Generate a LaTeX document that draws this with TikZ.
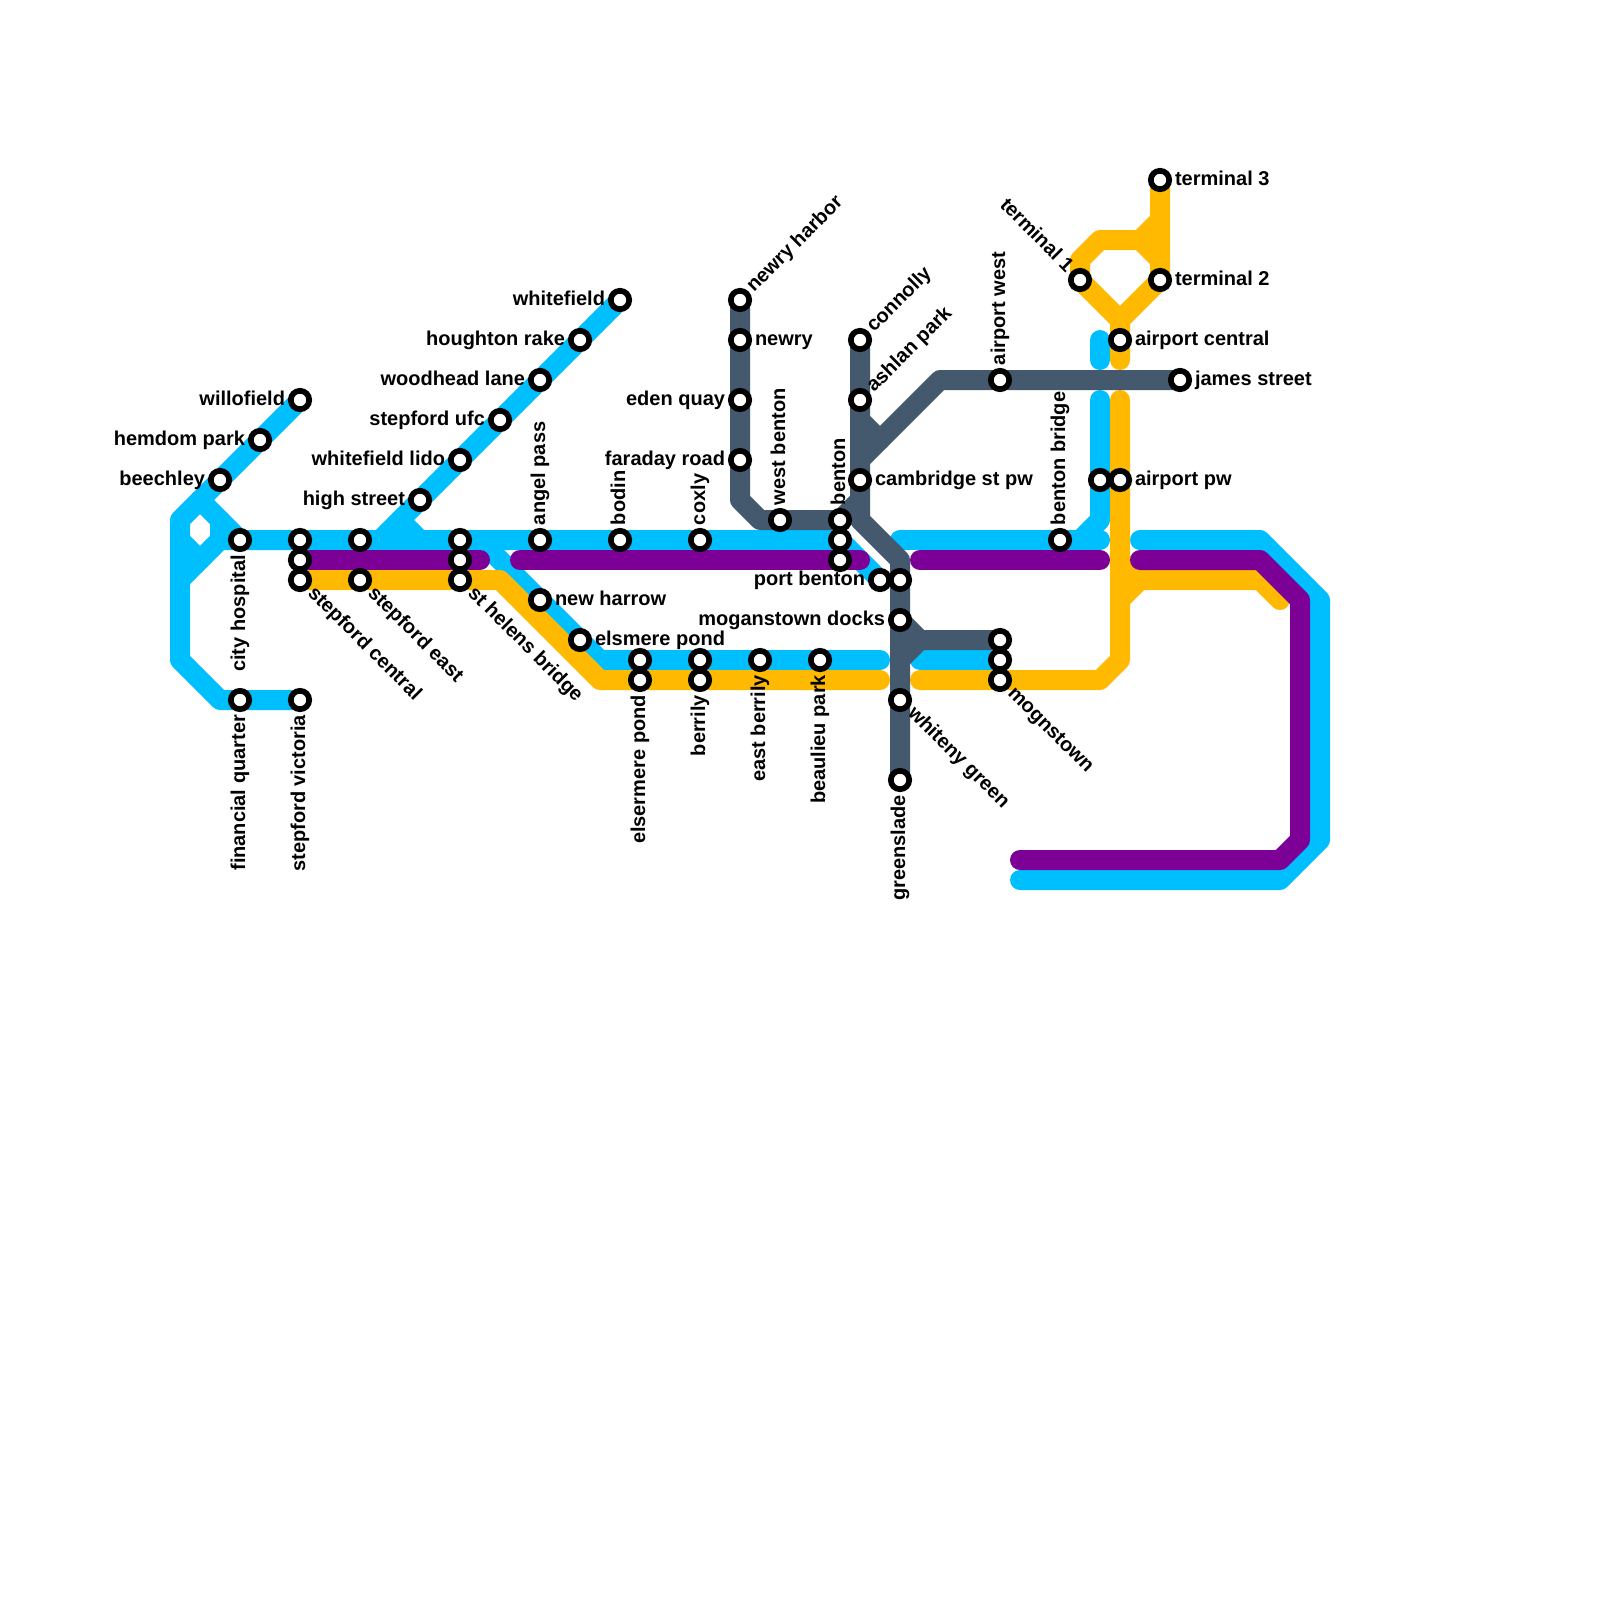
\documentclass[tikz,border=0pt]{standalone}
\usepackage{fontspec}
\setmainfont{Liberation Sans}
\usetikzlibrary{calc,backgrounds}
\definecolor{lblue}{HTML}{00BFFF}
\definecolor{lyellow}{HTML}{FFB900}
\definecolor{lpurple}{HTML}{7D0096}
\definecolor{ldark}{HTML}{44596E}
\tikzset{
  route/.style={line width=10pt,line cap=round,line join=round},
  blueline/.style={route,draw=lblue},
  yellowline/.style={route,draw=lyellow},
  purpleline/.style={route,draw=lpurple},
  darkline/.style={route,draw=ldark},
  stn/.style={circle,draw=black,fill=white,line width=2.85pt,minimum size=9.2pt,inner sep=0pt,outer sep=0pt},
  lab/.style={inner sep=0pt,outer sep=0pt,font=\bfseries\fontsize{10}{11}\selectfont}
}
% #1 station, #2 angle, #3 text
\newcommand{\lblafter}[3]{\node[lab,rotate=#2,anchor=base west] (#1-t) at ($(#1.center)+(#2:7.5pt)+(#2-90:2.5pt)$) {#3};}
\newcommand{\lblbefore}[3]{\node[lab,rotate=#2,anchor=base east] (#1-t) at ($(#1.center)+(#2+180:7.5pt)+(#2-90:2.5pt)$) {#3};}
\newcommand{\st}[3]{\node[stn] (#1) at (#2,#3) {};}
\begin{document}
\begin{tikzpicture}[x=0.5pt,y=-0.5pt]
\useasboundingbox (0,0) rectangle (1600,1600);
% stations
\st{willofield}{300}{400}\st{hemdom}{260}{440}\st{beechley}{220}{480}
\st{cityhosp}{240}{540}\st{sca}{300}{540}\st{scb}{300}{560}\st{sc}{300}{580}
\st{sea}{360}{540}\st{se}{360}{580}
\st{highst}{420}{500}\st{lido}{460}{460}\st{ufc}{500}{420}\st{woodhead}{540}{380}\st{houghton}{580}{340}\st{whitefield}{620}{300}
\st{sha}{460}{540}\st{shb}{460}{560}\st{sh}{460}{580}
\st{angel}{540}{540}\st{bodin}{620}{540}\st{coxly}{700}{540}
\st{newharrow}{540}{600}\st{elsmere}{580}{640}
\st{ela}{640}{660}\st{el}{640}{680}\st{bea}{700}{660}\st{be}{700}{680}
\st{eastb}{760}{660}\st{beaulieu}{820}{660}
\st{fq}{240}{700}\st{victoria}{300}{700}
\st{nharbor}{740}{300}\st{newry}{740}{340}\st{eden}{740}{400}\st{faraday}{740}{460}
\st{wbenton}{780}{520}\st{benton}{840}{520}\st{bentonb}{840}{540}\st{bentonc}{840}{560}
\st{connolly}{860}{340}\st{ashlan}{860}{400}\st{cambridge}{860}{480}
\st{portb}{880}{580}\st{portc}{900}{580}\st{docks}{900}{620}
\st{whiteny}{900}{700}\st{greenslade}{900}{780}
\st{moa}{1000}{640}\st{mob}{1000}{660}\st{mo}{1000}{680}
\st{awest}{1000}{380}\st{james}{1180}{380}\st{bbridge}{1060}{540}
\st{apwb}{1100}{480}\st{apw}{1120}{480}\st{acentral}{1120}{340}
\st{tone}{1080}{280}\st{ttwo}{1160}{280}\st{tthree}{1160}{180}
% routes under the stations
\begin{scope}[on background layer]
\fill[white] (0,0) rectangle (1600,1600);
\draw[blueline] (willofield.center) -- (180,520) -- (180,660) -- (220,700) -- (victoria.center);
\draw[blueline] (200,500) -- (cityhosp.center) -- (sha.center) -- (840,540) -- (portb.center);
\draw[blueline] (220,520) -- (220,540);
\draw[blueline] (180,540) -- (200,560);
\draw[blueline] (180,580) -- (220,540) -- (cityhosp.center);
\draw[blueline] (380,540) -- (whitefield.center);
\draw[blueline] (400,520) -- (420,540);
\draw[blueline] (480,540) -- (600,660) -- (880,660);
\draw[blueline] (920,660) -- (mob.center);
\draw[blueline] (900,540) -- (1100,540);
\draw[blueline] (1100,400) -- (1100,520) -- (1080,540);
\draw[blueline] (1100,340) -- (1100,360);
\draw[blueline] (1140,540) -- (1260,540) -- (1320,600) -- (1320,840) -- (1280,880) -- (1020,880);
\draw[yellowline] (sc.center) -- (500,580) -- (600,680) -- (880,680);
\draw[yellowline] (920,680) -- (1100,680) -- (1120,660) -- (1120,400);
\draw[yellowline] (1120,360) -- (1120,320) -- (ttwo.center) -- (tthree.center);
\draw[yellowline] (1120,320) -- (tone.center) -- (1080,260) -- (1100,240) -- (1140,240) -- (1160,260);
\draw[yellowline] (1140,240) -- (1160,220);
\draw[yellowline] (1120,560) -- (1140,580) -- (1260,580) -- (1280,600);
\draw[yellowline] (1120,600) -- (1140,580);
\draw[purpleline] (scb.center) -- (480,560);
\draw[purpleline] (520,560) -- (860,560);
\draw[purpleline] (920,560) -- (1100,560);
\draw[purpleline] (1140,560) -- (1260,560) -- (1300,600) -- (1300,840) -- (1280,860) -- (1020,860);
\draw[darkline] (nharbor.center) -- (740,500) -- (760,520) -- (benton.center) -- (860,500);
\draw[darkline] (connolly.center) -- (860,520) -- (900,560) -- (greenslade.center);
\draw[darkline] (860,420) -- (880,440);
\draw[darkline] (james.center) -- (940,380) -- (860,460);
\draw[darkline] (docks.center) -- (920,640) -- (moa.center);
\draw[darkline] (920,640) -- (900,660);
\end{scope}
% labels
\lblafter{newry}{0}{newry}
\lblafter{newharrow}{0}{new harrow}
\lblafter{elsmere}{0}{elsmere pond}
\lblafter{cambridge}{0}{cambridge st pw}
\lblafter{tthree}{0}{terminal 3}
\lblafter{ttwo}{0}{terminal 2}
\lblafter{acentral}{0}{airport central}
\lblafter{james}{0}{james street}
\lblafter{apw}{0}{airport pw}
\lblbefore{willofield}{0}{willofield}
\lblbefore{hemdom}{0}{hemdom park}
\lblbefore{beechley}{0}{beechley}
\lblbefore{highst}{0}{high street}
\lblbefore{lido}{0}{whitefield lido}
\lblbefore{ufc}{0}{stepford ufc}
\lblbefore{woodhead}{0}{woodhead lane}
\lblbefore{houghton}{0}{houghton rake}
\lblbefore{whitefield}{0}{whitefield}
\lblbefore{eden}{0}{eden quay}
\lblbefore{faraday}{0}{faraday road}
\lblbefore{portb}{0}{port benton}
\lblbefore{docks}{0}{moganstown docks}
\lblafter{angel}{90}{angel pass}
\lblafter{bodin}{90}{bodin}
\lblafter{coxly}{90}{coxly}
\lblafter{wbenton}{90}{west benton}
\lblafter{benton}{90}{benton}
\lblafter{awest}{90}{airport west}
\lblafter{bbridge}{90}{benton bridge}
\lblbefore{cityhosp}{90}{city hospital}
\lblbefore{fq}{90}{financial quarter}
\lblbefore{victoria}{90}{stepford victoria}
\lblbefore{el}{90}{elsermere pond}
\lblbefore{be}{90}{berrily}
\lblbefore{eastb}{90}{east berrily}
\lblbefore{beaulieu}{90}{beaulieu park}
\lblbefore{greenslade}{90}{greenslade}
\lblafter{sc}{-45}{stepford central}
\lblafter{se}{-45}{stepford east}
\lblafter{sh}{-45}{st helens bridge}
\lblafter{whiteny}{-45}{whiteny green}
\lblafter{mo}{-45}{mognstown}
\lblafter{nharbor}{45}{newry harbor}
\lblafter{connolly}{45}{connolly}
\lblafter{ashlan}{45}{ashlan park}
\lblbefore{tone}{-45}{terminal 1}
\end{tikzpicture}
\end{document}
